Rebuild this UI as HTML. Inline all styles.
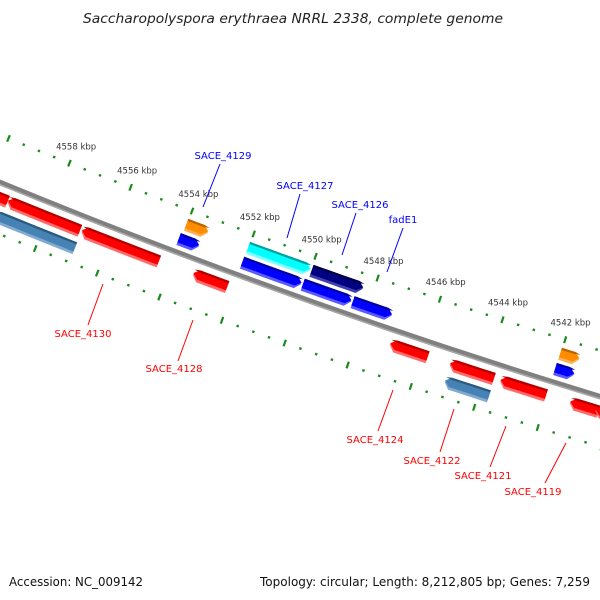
<!DOCTYPE html>
<html><head><meta charset="utf-8"><style>
html,body{margin:0;padding:0;background:#fff;overflow:hidden;}
svg{display:block;}
text{font-family:"DejaVu Sans","Liberation Sans",sans-serif;}
</style></head><body>
<svg id="map" width="600" height="600" viewBox="0 0 600 600" xmlns="http://www.w3.org/2000/svg">
<rect width="600" height="600" fill="#fff"/>
<text x="293" y="23" text-anchor="middle" font-size="13" font-style="italic" fill="#222" textLength="420" lengthAdjust="spacingAndGlyphs">Saccharopolyspora erythraea NRRL 2338, complete genome</text>
<g id="ticks"></g>
<g id="backbone-g"></g>
<g id="genes"></g>
<g id="labels"></g>
<text x="9" y="586" font-size="12.5" fill="#111" textLength="134" lengthAdjust="spacingAndGlyphs">Accession: NC_009142</text>
<text x="590" y="586" font-size="12.5" fill="#111" text-anchor="end" textLength="330" lengthAdjust="spacingAndGlyphs">Topology: circular; Length: 8,212,805 bp; Genes: 7,259</text>
</svg>
<script>
// ---- data (kbp) ----
const geneNames = ["f-orange1","f-cyan","f-navy","f-orange2","f-blue1","f-blue2","f-blue3","f-blue4","f-blue5","r-red0","r-red1","r-red2","r-red3","r-red4","r-red5","r-red6","r-red7","r-red8","r-steel1","r-steel2"];
const geneStart = [4554.02,4552.02,4549.97,4542.02,4554.08,4552.03,4550.08,4548.48,4542.03,4559.9,4559.3,4556.9,4553.3,4547.0,4545.1,4543.5,4541.3,4540.5,4559.5,4545.08];
const geneEnd   = [4553.32,4550.02,4548.32,4541.42,4553.43,4550.13,4548.53,4547.23,4541.43,4559.3,4556.95,4554.4,4552.2,4545.8,4543.7,4542.05,4540.4,4540.0,4556.9,4543.68];
const geneTrack = ["outer","outer","outer","outer","inner","inner","inner","inner","inner","rev","rev","rev","rev","rev","rev","rev","rev","rev","rev2","rev2"];
const geneColor = ["orange","cyan","navy","orange","blue","blue","blue","blue","blue","red","red","red","red","red","red","red","red","red","steel","steel"];
const tickMajor = [4558,4556,4554,4552,4550,4548,4546,4544,4542];
const tickLabels = ["4558 kbp","4556 kbp","4554 kbp","4552 kbp","4550 kbp","4548 kbp","4546 kbp","4544 kbp","4542 kbp"];
const minorStep = 0.5;

// ---- geometry ----
const CX=2560, CY=-6047, R0=6735, K0=4554, PHI0=20.726, DEG_PER_KBP=0.2817;
function ang(k){ return -(PHI0 + (k-K0)*DEG_PER_KBP)*Math.PI/180; }
function P(k,off){ const a=ang(k), r=R0+off; return [CX+r*Math.sin(a), CY+r*Math.cos(a)]; }
const NS="http://www.w3.org/2000/svg";
function mk(tag,attrs,parent){ const e=document.createElementNS(NS,tag); for(const k in attrs) e.setAttribute(k,attrs[k]); parent.appendChild(e); return e; }

const trackOff={outer:-29,inner:-13,rev:15,rev2:33};
const palette={
 orange:["#ff8c00","#b86400","#ffb050"], cyan:["#00ffff","#00a0a0","#80ffff"],
 navy:["#000080","#00004a","#4040b0"], blue:["#0000ff","#0000a0","#5a5aff"],
 red:["#ff0000","#b00000","#ff6a6a"], steel:["#4682b4","#2a5a80","#80aad0"]};

// ticks
const tg=document.getElementById('ticks');
const kMax=4562.5, kMin=4539.0;
for(let k=kMax;k>=kMin-1e-9;k-=minorStep){
  const major=Math.abs(k-Math.round(k/2)*2)<1e-6;
  [-44,48].forEach(off=>{
    const len=major?3.5:1.2;
    const a=P(k,off-len), b=P(k,off+len);
    const l=mk('line',{x1:a[0],y1:a[1],x2:b[0],y2:b[1],stroke:'#1a8a1a','stroke-width':major?2.2:2.4},tg);
    
    
  });
}
tickMajor.forEach((k,i)=>{
  const p=P(k,-62);
  const t=mk('text',{x:p[0],y:p[1]+3,'font-size':8.5,'text-anchor':'middle',fill:'#333'},tg);
  
  
  t.textContent=tickLabels[i];
});

// backbone
const bg=document.getElementById('backbone-g');
const bb=mk('circle',{cx:CX,cy:CY,r:R0,fill:'none',stroke:'#808080','stroke-width':5.5},bg);


mk('circle',{cx:CX,cy:CY,r:R0+2,fill:'none',stroke:'#a8a8a8','stroke-width':1.5},bg);

// genes
const gg=document.getElementById('genes');
function arcPts(k1,k2,off,n){ const pts=[]; for(let i=0;i<=n;i++){ pts.push(P(k1+(k2-k1)*i/n,off)); } return pts; }
function genePoly(ks,ke,o0,o1,fwd){
  const head=0.17, mid=(o0+o1)/2;
  let pts=[];
  if(fwd){
    const kh=Math.min(ks-0.05, ke+head);
    pts=pts.concat(arcPts(ks,kh,o0,6)); pts.push(P(ke,mid)); pts=pts.concat(arcPts(kh,ks,o1,6));
  } else {
    const kh=Math.max(ke+0.05, ks-head);
    pts.push(P(ks,mid)); pts=pts.concat(arcPts(kh,ke,o0,6)); pts=pts.concat(arcPts(ke,kh,o1,6));
  }
  return pts.map(p=>p[0].toFixed(2)+','+p[1].toFixed(2)).join(' ');
}
geneNames.forEach((nm,i)=>{
  const off=trackOff[geneTrack[i]], h=6.3;
  const fwd=geneTrack[i]==='outer'||geneTrack[i]==='inner';
  const c=palette[geneColor[i]];
  const g=mk('g',{},gg);
  
  
  mk('polygon',{points:genePoly(geneStart[i],geneEnd[i],off-h,off+h,fwd),fill:c[2]},g);
  mk('polygon',{points:genePoly(geneStart[i],geneEnd[i],off-h,off+h-2.8,fwd),fill:c[0]},g);
  mk('polygon',{points:genePoly(geneStart[i],geneEnd[i],off-h,off-h+2.2,fwd),fill:c[1]},g);
});

// labels
const labelText=["SACE_4129","SACE_4127","SACE_4126","fadE1","SACE_4130","SACE_4128","SACE_4124","SACE_4122","SACE_4121","SACE_4119"];
const lg=document.getElementById('labels');
const labelSpecs=[
 [223,159,'#0000ff',220,164,203,207],[305,189,'#0000ff',300,194,287,238],[360,208,'#0000ff',356,213,342,255],[403,223,'#0000ff',403,228,387,272],
 [83,337,'#ff0000',103,284,88,325],[174,372,'#ff0000',193,320,178,361],[375,443,'#ff0000',393,390,378,431],[432,464,'#ff0000',454,409,440,452],
 [483,479,'#ff0000',506,426,490,467],[533,495,'#ff0000',566,443,545,483]];
labelSpecs.forEach((s,i)=>{
  const ln=mk('line',{x1:s[3],y1:s[4],x2:s[5],y2:s[6],stroke:s[2],'stroke-width':1},lg);
  
  
  const t=mk('text',{x:s[0],y:s[1],'font-size':10,'text-anchor':'middle',fill:s[2]},lg);
  
  
  t.textContent=labelText[i];
});
</script>
</body></html>
